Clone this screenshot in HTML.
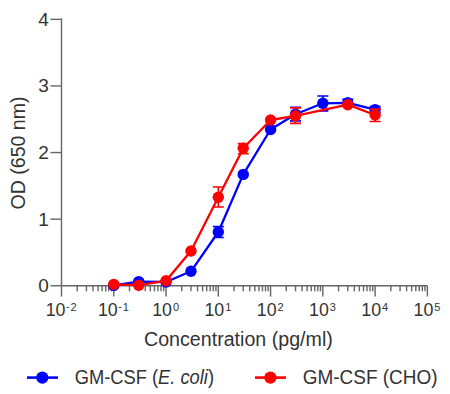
<!DOCTYPE html>
<html><head><meta charset="utf-8"><style>
html,body{margin:0;padding:0;background:#fff;}
body{width:450px;height:394px;overflow:hidden;}
svg{display:block;}
</style></head><body>
<svg width="450" height="394" viewBox="0 0 450 394">
<g stroke="#666666" stroke-width="1.4" fill="none">
<path d="M61.5 18.6 V285.75 H427.39"/>
<path d="M50.4 285.75 H61.5"/>
<path d="M50.4 219.15 H61.5"/>
<path d="M50.4 152.55 H61.5"/>
<path d="M50.4 85.95 H61.5"/>
<path d="M50.4 19.35 H61.5"/>
<path d="M61.50 285.75 V296.55"/>
<path d="M77.23 285.75 V291.35"/>
<path d="M86.44 285.75 V291.35"/>
<path d="M92.97 285.75 V291.35"/>
<path d="M98.04 285.75 V291.35"/>
<path d="M102.17 285.75 V291.35"/>
<path d="M105.67 285.75 V291.35"/>
<path d="M108.70 285.75 V291.35"/>
<path d="M111.38 285.75 V291.35"/>
<path d="M113.77 285.75 V296.55"/>
<path d="M129.50 285.75 V291.35"/>
<path d="M138.71 285.75 V291.35"/>
<path d="M145.24 285.75 V291.35"/>
<path d="M150.31 285.75 V291.35"/>
<path d="M154.44 285.75 V291.35"/>
<path d="M157.94 285.75 V291.35"/>
<path d="M160.97 285.75 V291.35"/>
<path d="M163.65 285.75 V291.35"/>
<path d="M166.04 285.75 V296.55"/>
<path d="M181.77 285.75 V291.35"/>
<path d="M190.98 285.75 V291.35"/>
<path d="M197.51 285.75 V291.35"/>
<path d="M202.58 285.75 V291.35"/>
<path d="M206.71 285.75 V291.35"/>
<path d="M210.21 285.75 V291.35"/>
<path d="M213.24 285.75 V291.35"/>
<path d="M215.92 285.75 V291.35"/>
<path d="M218.31 285.75 V296.55"/>
<path d="M234.04 285.75 V291.35"/>
<path d="M243.25 285.75 V291.35"/>
<path d="M249.78 285.75 V291.35"/>
<path d="M254.85 285.75 V291.35"/>
<path d="M258.98 285.75 V291.35"/>
<path d="M262.48 285.75 V291.35"/>
<path d="M265.51 285.75 V291.35"/>
<path d="M268.19 285.75 V291.35"/>
<path d="M270.58 285.75 V296.55"/>
<path d="M286.31 285.75 V291.35"/>
<path d="M295.52 285.75 V291.35"/>
<path d="M302.05 285.75 V291.35"/>
<path d="M307.12 285.75 V291.35"/>
<path d="M311.25 285.75 V291.35"/>
<path d="M314.75 285.75 V291.35"/>
<path d="M317.78 285.75 V291.35"/>
<path d="M320.46 285.75 V291.35"/>
<path d="M322.85 285.75 V296.55"/>
<path d="M338.58 285.75 V291.35"/>
<path d="M347.79 285.75 V291.35"/>
<path d="M354.32 285.75 V291.35"/>
<path d="M359.39 285.75 V291.35"/>
<path d="M363.52 285.75 V291.35"/>
<path d="M367.02 285.75 V291.35"/>
<path d="M370.05 285.75 V291.35"/>
<path d="M372.73 285.75 V291.35"/>
<path d="M375.12 285.75 V296.55"/>
<path d="M390.85 285.75 V291.35"/>
<path d="M400.06 285.75 V291.35"/>
<path d="M406.59 285.75 V291.35"/>
<path d="M411.66 285.75 V291.35"/>
<path d="M415.79 285.75 V291.35"/>
<path d="M419.29 285.75 V291.35"/>
<path d="M422.32 285.75 V291.35"/>
<path d="M425.00 285.75 V291.35"/>
<path d="M427.39 285.75 V296.55"/>
</g>
<polyline fill="none" stroke="#0000ff" stroke-width="2.3" stroke-linejoin="round" points="113.77,285.50 138.71,281.60 166.04,282.00 190.98,271.30 218.31,232.00 243.25,174.40 270.58,129.50 295.52,114.30 322.85,103.30 347.79,102.80 375.12,109.60"/>
<path d="M218.31 226.6 V237.5 M212.81 226.6 H223.81 M212.81 237.5 H223.81" stroke="#0000ff" stroke-width="1.6" fill="none"/>
<path d="M295.52 107.3 V120.9 M290.02 107.3 H301.02 M290.02 120.9 H301.02" stroke="#0000ff" stroke-width="1.6" fill="none"/>
<path d="M322.85 96 V110.9 M317.35 96 H328.35 M317.35 110.9 H328.35" stroke="#0000ff" stroke-width="1.6" fill="none"/>
<path d="M347.79 99.3 V106.3 M342.29 99.3 H353.29 M342.29 106.3 H353.29" stroke="#0000ff" stroke-width="1.6" fill="none"/>
<path d="M375.12 106.5 V112.7 M369.62 106.5 H380.62 M369.62 112.7 H380.62" stroke="#0000ff" stroke-width="1.6" fill="none"/>
<circle cx="113.77" cy="285.50" r="5.7" fill="#0000ff"/>
<circle cx="138.71" cy="281.60" r="5.7" fill="#0000ff"/>
<circle cx="166.04" cy="282.00" r="5.7" fill="#0000ff"/>
<circle cx="190.98" cy="271.30" r="5.7" fill="#0000ff"/>
<circle cx="218.31" cy="232.00" r="5.7" fill="#0000ff"/>
<circle cx="243.25" cy="174.40" r="5.7" fill="#0000ff"/>
<circle cx="270.58" cy="129.50" r="5.7" fill="#0000ff"/>
<circle cx="295.52" cy="114.30" r="5.7" fill="#0000ff"/>
<circle cx="322.85" cy="103.30" r="5.7" fill="#0000ff"/>
<circle cx="347.79" cy="102.80" r="5.7" fill="#0000ff"/>
<circle cx="375.12" cy="109.60" r="5.7" fill="#0000ff"/>
<polyline fill="none" stroke="#ff0000" stroke-width="2.3" stroke-linejoin="round" points="113.77,284.40 138.71,285.20 166.04,280.80 190.98,251.00 218.31,197.30 243.25,148.20 270.58,120.00 295.52,115.90 347.79,104.70 375.12,115.00"/>
<path d="M218.31 187 V207 M212.81 187 H223.81 M212.81 207 H223.81" stroke="#ff0000" stroke-width="1.6" fill="none"/>
<path d="M243.25 143.6 V153.8 M237.75 143.6 H248.75 M237.75 153.8 H248.75" stroke="#ff0000" stroke-width="1.6" fill="none"/>
<path d="M295.52 107.9 V123.4 M290.02 107.9 H301.02 M290.02 123.4 H301.02" stroke="#ff0000" stroke-width="1.6" fill="none"/>
<path d="M375.12 109.1 V121.5 M369.62 109.1 H380.62 M369.62 121.5 H380.62" stroke="#ff0000" stroke-width="1.6" fill="none"/>
<circle cx="113.77" cy="284.40" r="5.7" fill="#ff0000"/>
<circle cx="138.71" cy="285.20" r="5.7" fill="#ff0000"/>
<circle cx="166.04" cy="280.80" r="5.7" fill="#ff0000"/>
<circle cx="190.98" cy="251.00" r="5.7" fill="#ff0000"/>
<circle cx="218.31" cy="197.30" r="5.7" fill="#ff0000"/>
<circle cx="243.25" cy="148.20" r="5.7" fill="#ff0000"/>
<circle cx="270.58" cy="120.00" r="5.7" fill="#ff0000"/>
<circle cx="295.52" cy="115.90" r="5.7" fill="#ff0000"/>
<circle cx="347.79" cy="104.70" r="5.7" fill="#ff0000"/>
<circle cx="375.12" cy="115.00" r="5.7" fill="#ff0000"/>
<path d="M27 377.6 H58" stroke="#0000ff" stroke-width="2.6"/>
<circle cx="42.3" cy="377.6" r="6.1" fill="#0000ff"/>
<path d="M255 377.6 H286" stroke="#ff0000" stroke-width="2.6"/>
<circle cx="270.4" cy="377.6" r="6.1" fill="#ff0000"/>
<g fill="#333333" font-family="Liberation Sans">
<text x="48.8" y="292.15" font-size="19" text-anchor="end">0</text>
<text x="48.8" y="225.55" font-size="19" text-anchor="end">1</text>
<text x="48.8" y="158.95" font-size="19" text-anchor="end">2</text>
<text x="48.8" y="92.35" font-size="19" text-anchor="end">3</text>
<text x="48.8" y="25.75" font-size="19" text-anchor="end">4</text>
<text x="45.72" y="315.9" font-size="18.7" textLength="19.79" lengthAdjust="spacingAndGlyphs">10</text>
<text x="66.05" y="310.4" font-size="11">-</text>
<text x="70.55" y="310.85" font-size="11">2</text>
<text x="97.99" y="315.9" font-size="18.7" textLength="19.79" lengthAdjust="spacingAndGlyphs">10</text>
<text x="118.32" y="310.4" font-size="11">-</text>
<text x="122.82" y="310.85" font-size="11">1</text>
<text x="152.21" y="315.9" font-size="18.7" textLength="19.79" lengthAdjust="spacingAndGlyphs">10</text>
<text x="172.94" y="310.85" font-size="11">0</text>
<text x="204.48" y="315.9" font-size="18.7" textLength="19.79" lengthAdjust="spacingAndGlyphs">10</text>
<text x="225.21" y="310.85" font-size="11">1</text>
<text x="256.75" y="315.9" font-size="18.7" textLength="19.79" lengthAdjust="spacingAndGlyphs">10</text>
<text x="277.48" y="310.85" font-size="11">2</text>
<text x="309.02" y="315.9" font-size="18.7" textLength="19.79" lengthAdjust="spacingAndGlyphs">10</text>
<text x="329.75" y="310.85" font-size="11">3</text>
<text x="361.29" y="315.9" font-size="18.7" textLength="19.79" lengthAdjust="spacingAndGlyphs">10</text>
<text x="382.02" y="310.85" font-size="11">4</text>
<text x="413.56" y="315.9" font-size="18.7" textLength="19.79" lengthAdjust="spacingAndGlyphs">10</text>
<text x="434.29" y="310.85" font-size="11">5</text>
<text transform="translate(25.3 98.8) rotate(-90)" x="-110.7" y="0" font-size="20.5" textLength="113" lengthAdjust="spacingAndGlyphs" text-anchor="start">OD (650 nm)</text>
<text x="144" y="345.8" font-size="20" textLength="188.8" lengthAdjust="spacingAndGlyphs">Concentration (pg/ml)</text>
<text x="74.7" y="383.8" font-size="19.6" textLength="139.3" lengthAdjust="spacingAndGlyphs">GM-CSF (<tspan font-style="italic">E. coli</tspan>)</text>
<text x="302.7" y="383.8" font-size="19.6" textLength="134.8" lengthAdjust="spacingAndGlyphs">GM-CSF (CHO)</text>
</g>
</svg>
</body></html>
